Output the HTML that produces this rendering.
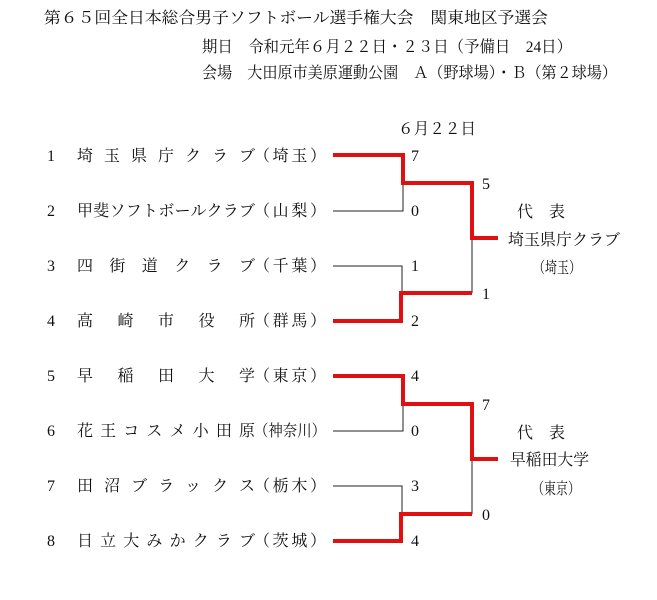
<!DOCTYPE html>
<html><head><meta charset="utf-8"><style>
html,body{margin:0;padding:0;background:#fff;}
svg{display:block;}
text{font-family:"Liberation Serif","Noto Serif CJK JP","Noto Serif CJK SC",serif;font-size:16px;fill:#111;}
</style></head><body>
<svg width="657" height="600" xmlns="http://www.w3.org/2000/svg">
<text x="44" y="23" textLength="504" lengthAdjust="spacingAndGlyphs">第６５回全日本総合男子ソフトボール選手権大会　関東地区予選会</text>
<text x="202" y="52" textLength="370" lengthAdjust="spacingAndGlyphs">期日　令和元年６月２２日・２３日（予備日　24日）</text>
<text x="202" y="78" textLength="415" lengthAdjust="spacingAndGlyphs">会場　大田原市美原運動公園　Ａ（野球場）・Ｂ（第２球場）</text>
<text x="398" y="134" textLength="78" lengthAdjust="spacingAndGlyphs">６月２２日</text>

<g>
<text x="47" y="161">1</text><text x="77" y="161" textLength="178" lengthAdjust="spacing">埼玉県庁クラブ</text><text x="254" y="161" textLength="72" lengthAdjust="spacing">（埼玉）</text>
<text x="47" y="216">2</text><text x="77" y="216" textLength="178" lengthAdjust="spacing">甲斐ソフトボールクラブ</text><text x="254" y="216" textLength="72" lengthAdjust="spacing">（山梨）</text>
<text x="47" y="271">3</text><text x="77" y="271" textLength="178" lengthAdjust="spacing">四街道クラブ</text><text x="254" y="271" textLength="72" lengthAdjust="spacing">（千葉）</text>
<text x="47" y="326">4</text><text x="77" y="326" textLength="178" lengthAdjust="spacing">高崎市役所</text><text x="254" y="326" textLength="72" lengthAdjust="spacing">（群馬）</text>
<text x="47" y="381">5</text><text x="77" y="381" textLength="178" lengthAdjust="spacing">早稲田大学</text><text x="254" y="381" textLength="72" lengthAdjust="spacing">（東京）</text>
<text x="47" y="436">6</text><text x="77" y="436" textLength="178" lengthAdjust="spacing">花王コスメ小田原</text><text x="254" y="436" textLength="72" lengthAdjust="spacingAndGlyphs">（神奈川）</text>
<text x="47" y="491">7</text><text x="77" y="491" textLength="178" lengthAdjust="spacing">田沼ブラックス</text><text x="254" y="491" textLength="72" lengthAdjust="spacing">（栃木）</text>
<text x="47" y="546">8</text><text x="77" y="546" textLength="178" lengthAdjust="spacing">日立大みかクラブ</text><text x="254" y="546" textLength="72" lengthAdjust="spacing">（茨城）</text>
</g>

<g fill="none" stroke="#222" stroke-width="1">
<polyline points="333,211 403,211 403,183"/>
<polyline points="333,266 402,266 402,293"/>
<line x1="472" y1="238" x2="472" y2="293"/>
<polyline points="333,431 403,431 403,404"/>
<polyline points="333,486 402,486 402,514"/>
<line x1="472" y1="459" x2="472" y2="514"/>
</g>
<g fill="none" stroke="#e01010" stroke-width="4">
<polyline points="333,155 403,155 403,183 472,183 472,238 498,238"/>
<polyline points="333,321 401,321 401,293 472,293"/>
<polyline points="333,376 403,376 403,404 472,404 472,459 498,459"/>
<polyline points="333,541 401,541 401,514 472,514"/>
</g>

<g style="font-size:17px">
<text x="411" y="161">7</text><text x="411" y="216">0</text><text x="411" y="271">1</text><text x="411" y="326">2</text>
<text x="482" y="189">5</text><text x="482" y="299">1</text>
<text x="411" y="381">4</text><text x="411" y="436">0</text><text x="411" y="491">3</text><text x="411" y="546">4</text>
<text x="482" y="410">7</text><text x="482" y="520">0</text>
</g>

<text x="517" y="217" textLength="48" lengthAdjust="spacing">代表</text>
<text x="508" y="245" textLength="112" lengthAdjust="spacingAndGlyphs">埼玉県庁クラブ</text>
<text x="533" y="273" textLength="48" lengthAdjust="spacingAndGlyphs">（埼玉）</text>
<text x="517" y="438" textLength="48" lengthAdjust="spacing">代表</text>
<text x="510" y="465" textLength="79" lengthAdjust="spacingAndGlyphs">早稲田大学</text>
<text x="532" y="494" textLength="48" lengthAdjust="spacingAndGlyphs">（東京）</text>
</svg>
</body></html>
